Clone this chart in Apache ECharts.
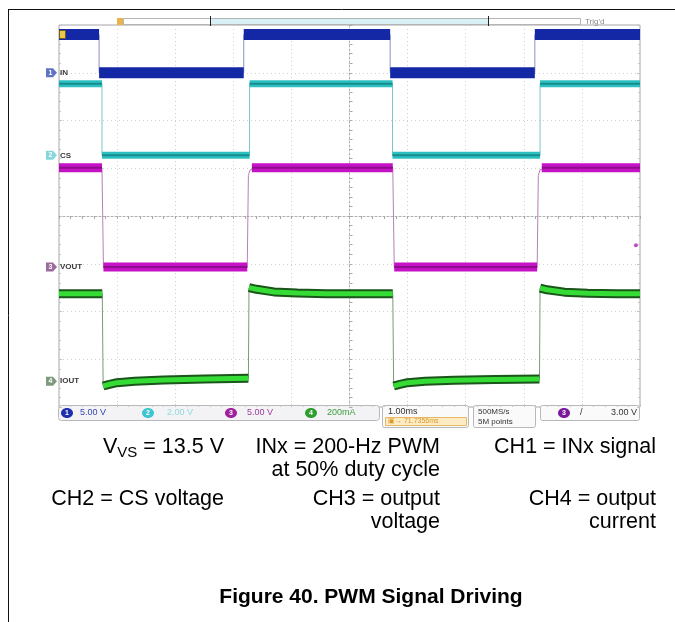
<!DOCTYPE html>
<html><head><meta charset="utf-8">
<script src="https://cdn.jsdelivr.net/npm/echarts@6/dist/echarts.min.js"></script>
<style>html,body{margin:0;padding:0;background:#fff;}#c{width:675px;height:622px;}</style>
</head><body><div id="c"></div>
<script>
// ---- data (time in ms) ----
const channelNames = ['IN', 'CS', 'VOUT', 'IOUT'];
const channelScaleLabels = ['5.00 V', '2.00 V', '5.00 V', '200mA'];
const channelPerDiv = [5, 2, 5, 200];
const timebaseLabel = '1.00ms';
const triggerLabel = '3.00 V';

const ch1Time = [0, 0.69, 0.69, 3.18, 3.18, 5.70, 5.70, 8.19, 8.19, 10];
const ch1Volts = [4.0, 4.0, 0, 0, 4.0, 4.0, 0, 0, 4.0, 4.0];

const ch2Time = [0, 0.74, 0.74, 3.28, 3.28, 5.74, 5.74, 8.28, 8.28, 10];
const ch2Volts = [3.0, 3.0, 0, 0, 3.0, 3.0, 0, 0, 3.0, 3.0];

const ch3Time = [0, 0.74, 0.765, 3.24, 3.26, 3.29, 3.32, 5.745, 5.77, 8.23, 8.25, 8.28, 8.31, 10];
const ch3Volts = [10.4, 10.4, 0, 0, 9.6, 10.2, 10.4, 10.4, 0, 0, 9.6, 10.2, 10.4, 10.4];

const ch4Time = [0, 0.745, 0.76, 0.85, 1.0, 1.3, 1.8, 2.5, 3.26, 3.27, 3.4, 3.7, 4.1, 4.6,
                 5.745, 5.76, 5.85, 6.0, 6.3, 6.8, 7.5, 8.27, 8.28, 8.4, 8.7, 9.1, 9.6, 10];
const ch4mA = [366, 366, -20, -14, -6, 0, 5, 9, 12, 392, 385, 374, 369, 366,
               366, -20, -14, -6, 0, 4, 7, 9, 390, 383, 373, 368, 366, 366];

const triggerMarkerVolts = 2.3;

// ---- layout config (screen divisions) ----
const groundDiv = [3.0, 1.27, -1.07, -3.46];
const GRID = {left: 59, top: 25, width: 581, height: 382};
const FONT = '"Liberation Sans", Arial, sans-serif';

const chColors = [
  {band: '#1428a6', inner: null, edge: '#8a92c0', tag: '#5f74c4', txt: '#3447b0', dot: '#1e2fae'},
  {band: '#2ec0c0', inner: '#168c8e', edge: '#7cc4c4', tag: '#86d6dc', txt: '#8fdade', dot: '#3ec6d0'},
  {band: '#c612c6', inner: '#8e0c8e', edge: '#b880b8', tag: '#9c6a9c', txt: '#a13aa1', dot: '#a0209e'},
  {band: '#1a551a', inner: '#36dc36', edge: '#7a9a7a', tag: '#7d9c7d', txt: '#3e9e3e', dot: '#2e9e2e'}
];
const bandWidth = [11, 7, 9, 9];

function pairs(t, v) { return t.map((x, i) => [x, v[i]]); }
// split a trace into its steady (thick) runs; fast edges are left to the thin trace
function bandSegments(pts, perDiv) {
  const segs = [];
  let cur = [pts[0]];
  for (let i = 1; i < pts.length; i++) {
    const dv = Math.abs(pts[i][1] - pts[i - 1][1]) / perDiv;
    const dt = pts[i][0] - pts[i - 1][0];
    if (dv > 0.02 && dt < 0.05) {
      if (cur.length > 1) segs.push(cur);
      cur = [pts[i]];
    } else {
      cur.push(pts[i]);
    }
  }
  if (cur.length > 1) segs.push(cur);
  return segs;
}

const channelData = [pairs(ch1Time, ch1Volts), pairs(ch2Time, ch2Volts), pairs(ch3Time, ch3Volts), pairs(ch4Time, ch4mA)];

const chart = echarts.init(document.getElementById('c'), null, {renderer: 'canvas'});

const edgeTickAxis = {
  axisLine: {show: false, onZero: false}, axisLabel: {show: false}, splitLine: {show: false},
  axisTick: {show: true, inside: true, length: 3, lineStyle: {color: '#c4c4c4'}},
  minorTick: {show: true, splitNumber: 5, length: 2, lineStyle: {color: '#c4c4c4'}}
};

const yAxes = [{
  type: 'value', min: -4, max: 4, interval: 1,
  axisLine: {show: true, onZero: true, onZeroAxisIndex: 1, lineStyle: {color: '#b0b0b0', type: [2, 2]}},
  axisTick: {show: true, inside: true, length: 3, lineStyle: {color: '#a8a8a8'}},
  minorTick: {show: true, splitNumber: 5, length: 3, lineStyle: {color: '#a8a8a8'}},
  axisLabel: {show: false},
  splitLine: {show: true, lineStyle: {color: '#d0d0d0', type: [1, 3]}}
}];
for (let k = 0; k < 4; k++) {
  yAxes.push({type: 'value', show: false, min: (-4 - groundDiv[k]) * channelPerDiv[k], max: (4 - groundDiv[k]) * channelPerDiv[k],
    axisLine: {onZero: false}, splitLine: {show: false}});
}
yAxes.push(Object.assign({type: 'value', min: -4, max: 4, interval: 1, position: 'left'}, edgeTickAxis));
yAxes.push(Object.assign({type: 'value', min: -4, max: 4, interval: 1, position: 'right'}, edgeTickAxis));

const series = [];
// thin traces (edges) underneath
for (let k = 3; k >= 0; k--) {
  series.push({type: 'line', xAxisIndex: 0, yAxisIndex: k + 1, data: channelData[k], symbol: 'none', silent: true,
    lineStyle: {color: chColors[k].edge, width: 1}, z: 2});
}
// thick bands, one series per steady run
for (let k = 3; k >= 0; k--) {
  const segs = bandSegments(channelData[k], channelPerDiv[k]);
  segs.forEach(seg => {
    series.push({type: 'line', xAxisIndex: 0, yAxisIndex: k + 1, data: seg, symbol: 'none', silent: true,
      lineStyle: {color: chColors[k].band, width: bandWidth[k], cap: 'butt', join: 'round'}, z: 3});
    if (chColors[k].inner) {
      series.push({type: 'line', xAxisIndex: 0, yAxisIndex: k + 1, data: seg, symbol: 'none', silent: true,
        lineStyle: {color: chColors[k].inner, width: k === 3 ? 5 : 2, cap: 'butt', join: 'round'}, z: 4});
    }
  });
}
// trigger level marker (CH3)
series.push({type: 'scatter', xAxisIndex: 0, yAxisIndex: 3, data: [[9.93, triggerMarkerVolts]], symbolSize: 4,
  itemStyle: {color: '#b020b0'}, silent: true, z: 5});

chart.setOption({
  animation: false,
  backgroundColor: '#fff',
  grid: {left: GRID.left, top: GRID.top, width: GRID.width, height: GRID.height, show: true,
    borderColor: '#a6a6a6', borderWidth: 1, backgroundColor: '#fff'},
  xAxis: [{
    type: 'value', min: 0, max: 10, interval: 1,
    axisLine: {show: false, onZero: false}, axisTick: {show: false}, axisLabel: {show: false},
    splitLine: {show: true, lineStyle: {color: '#d0d0d0', type: [1, 3]}}
  }, {
    type: 'value', min: -5, max: 5, interval: 1, position: 'top',
    axisLine: {show: true, onZero: true, onZeroAxisIndex: 0, lineStyle: {color: '#b0b0b0', type: [2, 2]}},
    axisTick: {show: true, inside: true, length: 3, lineStyle: {color: '#a8a8a8'}},
    minorTick: {show: true, splitNumber: 5, length: 3, lineStyle: {color: '#a8a8a8'}},
    axisLabel: {show: false}, splitLine: {show: false}
  },
  Object.assign({type: 'value', min: -5, max: 5, interval: 1, position: 'bottom'}, edgeTickAxis)],
  yAxis: yAxes,
  series: series
});

// ---- decorations & text ----
const mctx = document.createElement('canvas').getContext('2d');
function measure(s, font) { mctx.font = font; return mctx.measureText(s).width; }
function txt(s, x, baseline, size, opts) {
  const font = (opts && opts.bold ? 'bold ' : '') + size + 'px ' + FONT;
  return {type: 'text', silent: true, z: 10, style: Object.assign({text: s, x: x, y: baseline - 0.35 * size, font: font,
    fill: (opts && opts.fill) || '#000', align: (opts && opts.align) || 'right', textAlign: (opts && opts.align) || 'right',
    verticalAlign: 'middle', textVerticalAlign: 'middle'})};
}
function small(s, x, y, fill, size, align, bold) {
  return {type: 'text', silent: true, z: 12, style: {text: s, x: x, y: y, font: (bold ? 'bold ' : '') + (size || 8) + 'px ' + FONT,
    fill: fill, align: align || 'left', textAlign: align || 'left', verticalAlign: 'middle', textVerticalAlign: 'middle'}};
}

const g = [];
// page frame lines
g.push({type: 'line', silent: true, shape: {x1: 8, y1: 9.5, x2: 675, y2: 9.5}, style: {stroke: '#111', lineWidth: 1}});
g.push({type: 'line', silent: true, shape: {x1: 8.5, y1: 9, x2: 8.5, y2: 622}, style: {stroke: '#111', lineWidth: 1}});
// header bar
g.push({type: 'rect', silent: true, shape: {x: 123.5, y: 18.5, width: 457, height: 6}, style: {fill: '#fff', stroke: '#b4b4b4', lineWidth: 1}});
g.push({type: 'rect', silent: true, shape: {x: 210.5, y: 18.5, width: 278, height: 6}, style: {fill: '#d8f1f7', stroke: '#b4b4b4', lineWidth: 1}});
g.push({type: 'line', silent: true, shape: {x1: 210.5, y1: 16, x2: 210.5, y2: 26}, style: {stroke: '#222', lineWidth: 1}});
g.push({type: 'line', silent: true, shape: {x1: 488.5, y1: 16, x2: 488.5, y2: 26}, style: {stroke: '#222', lineWidth: 1}});
g.push({type: 'rect', silent: true, shape: {x: 117, y: 18, width: 6, height: 7}, style: {fill: '#eab44a'}});
g.push(small("Trig'd", 585, 21.5, '#8a8a8a', 8));
// trigger position marker
g.push({type: 'rect', silent: true, z: 11, shape: {x: 59.5, y: 30.5, width: 6, height: 8}, style: {fill: '#e9c84a', stroke: '#6d5d20', lineWidth: 1}});

// channel ground tags
for (let k = 0; k < 4; k++) {
  const y = chart.convertToPixel({yAxisIndex: k + 1}, 0);
  g.push({type: 'polygon', silent: true, z: 11, shape: {points: [[46, y - 4.5], [53, y - 4.5], [57, y], [53, y + 4.5], [46, y + 4.5]]},
    style: {fill: chColors[k].tag}});
  g.push(small(String(k + 1), 50.5, y, '#fff', 7, 'center', true));
  g.push(small(channelNames[k], 60, y, '#3a3a3a', 8, 'left', true));
}

// status bar
const sbY = 413;
g.push({type: 'rect', silent: true, shape: {x: 58.5, y: 405.5, width: 321, height: 15, r: 3}, style: {fill: '#f3f3f5', stroke: '#b8b8bc', lineWidth: 1}});
const dotX = [67, 148, 231, 311];
const lblX = [80, 167, 247, 327];
for (let k = 0; k < 4; k++) {
  g.push({type: 'ellipse', silent: true, z: 11, shape: {cx: dotX[k], cy: sbY, rx: 6, ry: 5}, style: {fill: chColors[k].dot}});
  g.push(small(String(k + 1), dotX[k], sbY, '#fff', 7, 'center', true));
  g.push(small(channelScaleLabels[k], lblX[k], sbY, chColors[k].txt, 9));
}
// timebase box
g.push({type: 'rect', silent: true, shape: {x: 382.5, y: 405.5, width: 86, height: 22, r: 2}, style: {fill: '#fafafa', stroke: '#b8b8bc', lineWidth: 1}});
g.push(small(timebaseLabel, 388, 411.5, '#333', 9));
g.push({type: 'rect', silent: true, shape: {x: 385.5, y: 417.5, width: 81, height: 8}, style: {fill: '#fdebc4', stroke: '#e6b866', lineWidth: 1}});
g.push(small('\u25A3\u2192 71.7356ms', 388, 421.5, '#d99a2a', 7));
// sample box
g.push({type: 'rect', silent: true, shape: {x: 473.5, y: 405.5, width: 62, height: 22, r: 2}, style: {fill: '#fafafa', stroke: '#b8b8bc', lineWidth: 1}});
g.push(small('500MS/s', 478, 411.5, '#333', 8));
g.push(small('5M points', 478, 421.5, '#333', 8));
// trigger box
g.push({type: 'rect', silent: true, shape: {x: 540.5, y: 405.5, width: 99, height: 15, r: 2}, style: {fill: '#fafafa', stroke: '#b8b8bc', lineWidth: 1}});
g.push({type: 'ellipse', silent: true, z: 11, shape: {cx: 564, cy: sbY, rx: 6, ry: 5}, style: {fill: '#7a1a9a'}});
g.push(small('3', 564, sbY, '#fff', 7, 'center', true));
g.push(small('/', 580, sbY, '#333', 9));
g.push(small(triggerLabel, 637, sbY, '#333', 9, 'right'));

// caption texts
const S = 21.5;
const fMain = S + 'px ' + FONT;
const tail = ' = 13.5 V';
const wTail = measure(tail, fMain);
const SUB = 15;
const wSub = measure('VS', SUB + 'px ' + FONT);
g.push(txt(tail, 224, 455, S));
g.push(txt('VS', 224 - wTail, 458.5, SUB));
g.push(txt('V', 224 - wTail - wSub, 455, S));
g.push(txt('INx = 200-Hz PWM', 440, 455, S));
g.push(txt('at 50% duty cycle', 440, 478, S));
g.push(txt('CH1 = INx signal', 656, 455, S));
g.push(txt('CH2 = CS voltage', 224, 507, S));
g.push(txt('CH3 = output', 440, 507, S));
g.push(txt('voltage', 440, 530, S));
g.push(txt('CH4 = output', 656, 507, S));
g.push(txt('current', 656, 530, S));
g.push(txt('Figure 40. PWM Signal Driving', 371, 605, 21, {bold: true, align: 'center'}));

chart.setOption({graphic: {elements: g}});
</script>
</body></html>
